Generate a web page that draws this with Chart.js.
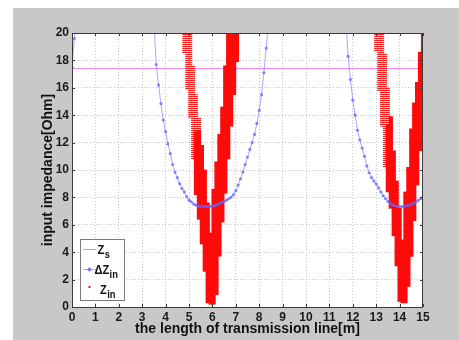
<!DOCTYPE html>
<html>
<head>
<meta charset="utf-8">
<script src="https://cdn.jsdelivr.net/npm/chart.js@4.4.1/dist/chart.umd.min.js"></script>
<style>
  html, body { margin: 0; padding: 0; background: #fff; }
  #wrap { width: 459px; height: 340px; }
</style>
</head>
<body>
<div id="wrap"><canvas id="chart" width="459" height="340"></canvas></div>
<script>
// --- data ---
const xTicks = [0, 15, 1];   // min, max, step
const yTicks = [0, 20, 2];

// Zs: flat source impedance
const zsX = [0, 15];
const zsY = [17.4, 17.4];

// delta Zin (blue, with markers); null = break in the line
const deltaX = [0, 0.1, 0.2, 1,
  3.5, 3.6, 3.7, 3.8, 3.9, 4.0, 4.1, 4.2, 4.3, 4.4, 4.5, 4.6, 4.7, 4.8, 4.9,
  5.0, 5.1, 5.2, 5.3, 5.4, 5.5, 5.6, 5.7, 5.8, 5.9, 6.0, 6.1, 6.2, 6.3, 6.4,
  6.5, 6.6, 6.7, 6.8, 6.9, 7.0, 7.1, 7.2, 7.3, 7.4, 7.5, 7.6, 7.7, 7.8, 7.9,
  8.0, 8.1, 8.2, 8.3, 8.4, 10,
  11.7, 11.8, 11.9, 12.0, 12.1, 12.2, 12.3, 12.4, 12.5, 12.6, 12.7, 12.8, 12.9,
  13.0, 13.1, 13.2, 13.3, 13.4, 13.5, 13.6, 13.7, 13.8, 13.9, 14.0, 14.1, 14.2,
  14.3, 14.4, 14.5, 14.6, 14.7, 14.8, 14.9, 15.0];
const deltaY = [17.5, 19.6, 22.0, null,
  20.8, 17.7, 16.2, 14.85, 13.65, 12.8, 11.9, 11.2, 10.4, 9.85, 9.45, 9.0, 8.65, 8.4, 8.05,
  7.8, 7.68, 7.52, 7.43, 7.37, 7.34, 7.33, 7.33, 7.33, 7.34, 7.36, 7.4, 7.46, 7.54, 7.62,
  7.7, 7.8, 7.9, 8.02, 8.2, 8.5, 8.9, 9.35, 9.85, 10.4, 10.95, 11.5, 12.0, 12.6, 13.4,
  14.35, 15.5, 17.1, 18.9, 21.0, null,
  21.0, 18.3, 16.6, 15.1, 14.0, 12.9, 12.2, 11.6, 11.0, 10.3, 9.8, 9.45, 9.2,
  8.98, 8.7, 8.4, 8.12, 7.9, 7.7, 7.55, 7.45, 7.39, 7.35, 7.33, 7.33, 7.35,
  7.38, 7.43, 7.5, 7.57, 7.67, 7.78, 7.9, 8.05];

// Zin (red): dense oscillation, read as vertical columns [lo, hi]
const zinSolidX  = [5.3, 5.425, 5.55, 5.675, 5.8, 5.925, 6.05, 6.175, 6.3, 6.425, 6.55, 6.675, 6.8, 6.925, 7.05,
                    13.5, 13.625, 13.75, 13.875, 14.0, 14.125, 14.25, 14.375, 14.5, 14.625, 14.75, 14.875, 15.0];
const zinSolidLo = [8.2, 6.4, 4.6, 2.6, 0.3, 0.2, 0.2, 0.9, 3.7, 6.2, 8.3, 10.8, 13.2, 15.5, 17.9,
                    8.4, 7.2, 5.2, 3.0, 0.4, 0.3, 0.3, 1.5, 3.7, 6.3, 8.9, 11.4, 13.5];
const zinSolidHi = [12.8, 12.9, 11.8, 10.0, 7.6, 5.4, 8.6, 10.6, 12.6, 14.6, 17.6, 20.5, 20.5, 20.5, 20.5,
                    13.3, 13.9, 11.4, 9.2, 7.2, 4.9, 8.4, 10.2, 13.0, 14.9, 16.4, 18.6, 20.5];
// sparse (dotted-looking) upper parts of the falling edges
const zinDotX  = [4.8, 4.925, 5.05, 5.175, 5.3, 5.425, 13.0, 13.125, 13.25, 13.375, 13.5];
const zinDotLo = [18.5, 15.9, 13.8, 10.8, 12.8, 12.9, 18.7, 15.8, 13.2, 10.2, 13.3];
const zinDotHi = [20.5, 20.5, 20.5, 17.6, 15.5, 13.8, 20.5, 20.5, 20.5, 18.5, 16.0];

const BLUE_LINE = 'rgba(110,110,255,0.6)';
const BLUE = 'rgba(100,100,255,0.75)';
const PINK = '#f27ef2';
const RED = '#ff0a0a';
const FONT = '"Liberation Sans", Arial, Helvetica, sans-serif';

function pts(xs, ys){ return xs.map((x, i) => ({x, y: ys[i]})); }
function cols(xs, lo, hi){ return xs.map((x, i) => ({x, y: [lo[i], hi[i]]})); }

function stripes(ctx){
  const c = document.createElement('canvas');
  c.width = 3; c.height = 2;
  const g = c.getContext('2d');
  g.fillStyle = 'rgba(255,20,20,0.95)'; g.fillRect(0, 0, 3, 1);
  g.fillStyle = 'rgba(255,120,120,0.35)'; g.fillRect(0, 1, 3, 1);
  return ctx.createPattern(c, 'repeat');
}

// legend label: main letters + subscript, slightly narrowed like the original
function label(ctx, x, y, main, sub){
  ctx.save();
  ctx.translate(x, y);
  ctx.scale(0.85, 1);
  ctx.font = 'bold 13px ' + FONT;
  ctx.fillText(main, 0, 0);
  const w = ctx.measureText(main).width;
  ctx.font = 'bold 11px ' + FONT;
  ctx.fillText(sub, w + 0.5, 4);
  ctx.restore();
}

const ctx = document.getElementById('chart').getContext('2d');

// background, box, inward ticks, legend
const frame = {
  id: 'frame',
  beforeDraw(chart){
    const {ctx, chartArea: a} = chart;
    ctx.save();
    ctx.fillStyle = '#fff';
    ctx.fillRect(0, 0, chart.width, chart.height);
    ctx.fillStyle = '#c8c8c8';
    ctx.fillRect(13, 8, chart.width - 13, chart.height - 8);
    ctx.fillStyle = '#fff';
    ctx.fillRect(a.left, a.top, a.right - a.left, a.bottom - a.top);
    ctx.restore();
  },
  afterDraw(chart){
    const {ctx, chartArea: a, scales} = chart;
    ctx.save();
    ctx.strokeStyle = '#3a3a3a';
    ctx.lineWidth = 1;
    ctx.strokeRect(a.left + 0.5, a.top + 0.5, a.right - a.left - 1, a.bottom - a.top);
    ctx.beginPath();
    scales.x.ticks.forEach(t => {
      const p = Math.round(scales.x.getPixelForValue(t.value)) + 0.5;
      ctx.moveTo(p, a.bottom); ctx.lineTo(p, a.bottom - 3);
      ctx.moveTo(p, a.top); ctx.lineTo(p, a.top + 3);
    });
    scales.y.ticks.forEach(t => {
      const p = Math.round(scales.y.getPixelForValue(t.value)) + 0.5;
      ctx.moveTo(a.left, p); ctx.lineTo(a.left + 3, p);
      ctx.moveTo(a.right, p); ctx.lineTo(a.right - 3, p);
    });
    ctx.stroke();

    // legend box (MATLAB style)
    ctx.fillStyle = '#fff';
    ctx.fillRect(80, 239, 44, 61);
    ctx.strokeStyle = '#7a7a7a';
    ctx.strokeRect(80.5, 239.5, 44, 61);

    ctx.lineWidth = 1;
    ctx.strokeStyle = PINK;
    ctx.beginPath(); ctx.moveTo(83, 249.5); ctx.lineTo(96, 249.5); ctx.stroke();
    ctx.strokeStyle = BLUE_LINE;
    ctx.beginPath(); ctx.moveTo(83, 269.5); ctx.lineTo(96, 269.5); ctx.stroke();
    ctx.fillStyle = BLUE;
    ctx.beginPath(); ctx.arc(89.5, 269.5, 2, 0, Math.PI * 2); ctx.fill();
    ctx.fillStyle = RED;
    ctx.fillRect(88.5, 286, 2, 2);

    ctx.fillStyle = '#111';
    ctx.textBaseline = 'alphabetic';
    ctx.textAlign = 'left';
    label(ctx, 97.5, 253.5, 'Z', 's');
    label(ctx, 94.5, 273.5, '\u0394Z', 'in');
    label(ctx, 100, 293.5, 'Z', 'in');
    ctx.restore();
  }
};

new Chart(ctx, {
  type: 'scatter',
  data: {
    datasets: [
      {
        label: 'Zs', type: 'line', order: 3, data: pts(zsX, zsY),
        borderColor: PINK, borderWidth: 1, pointRadius: 0, clip: 0
      },
      {
        label: '\u0394Zin', type: 'line', order: 1, data: pts(deltaX, deltaY),
        borderColor: BLUE_LINE, borderWidth: 1, pointRadius: 1.6,
        pointBackgroundColor: BLUE, pointBorderWidth: 0, spanGaps: false, clip: 0
      },
      {
        label: 'Zin', type: 'bar', order: 2, data: cols(zinSolidX, zinSolidLo, zinSolidHi),
        backgroundColor: RED, borderWidth: 0, barThickness: 3.6, grouped: false, clip: 0
      },
      {
        label: 'Zin dots', type: 'bar', order: 2, data: cols(zinDotX, zinDotLo, zinDotHi),
        backgroundColor: stripes(ctx), borderWidth: 0, barThickness: 3.4, grouped: false, clip: 0
      }
    ]
  },
  options: {
    responsive: false,
    animation: false,
    events: [],
    layout: { padding: { left: 0, top: 33, right: 36, bottom: 0 } },
    plugins: { legend: { display: false }, tooltip: { enabled: false } },
    scales: {
      x: {
        type: 'linear', min: xTicks[0], max: xTicks[1], offset: false,
        afterFit: s => { s.height = 33; },
        ticks: { stepSize: xTicks[2], padding: 3, color: '#1a1a1a', font: { family: FONT, size: 12, weight: 'bold' } },
        grid: { color: '#c4c4c4', drawTicks: false, offset: false },
        border: { display: false, dash: [1, 2] },
        title: { display: true, text: 'the length of transmission line[m]', color: '#111',
                 font: { family: FONT, size: 14, weight: 'bold' }, padding: { top: 0, bottom: 2.6 } }
      },
      y: {
        type: 'linear', min: yTicks[0], max: yTicks[1],
        afterFit: s => { s.width = 72; },
        ticks: { stepSize: yTicks[2], padding: 3, color: '#1a1a1a', font: { family: FONT, size: 12, weight: 'bold' } },
        grid: { color: '#c4c4c4', drawTicks: false },
        border: { display: false, dash: [1, 2] },
        title: { display: true, text: 'input impedance[Ohm]', color: '#111',
                 font: { family: FONT, size: 14, weight: 'bold' }, padding: { top: 40, bottom: 0 } }
      }
    }
  },
  plugins: [frame]
});
</script>
</body>
</html>
